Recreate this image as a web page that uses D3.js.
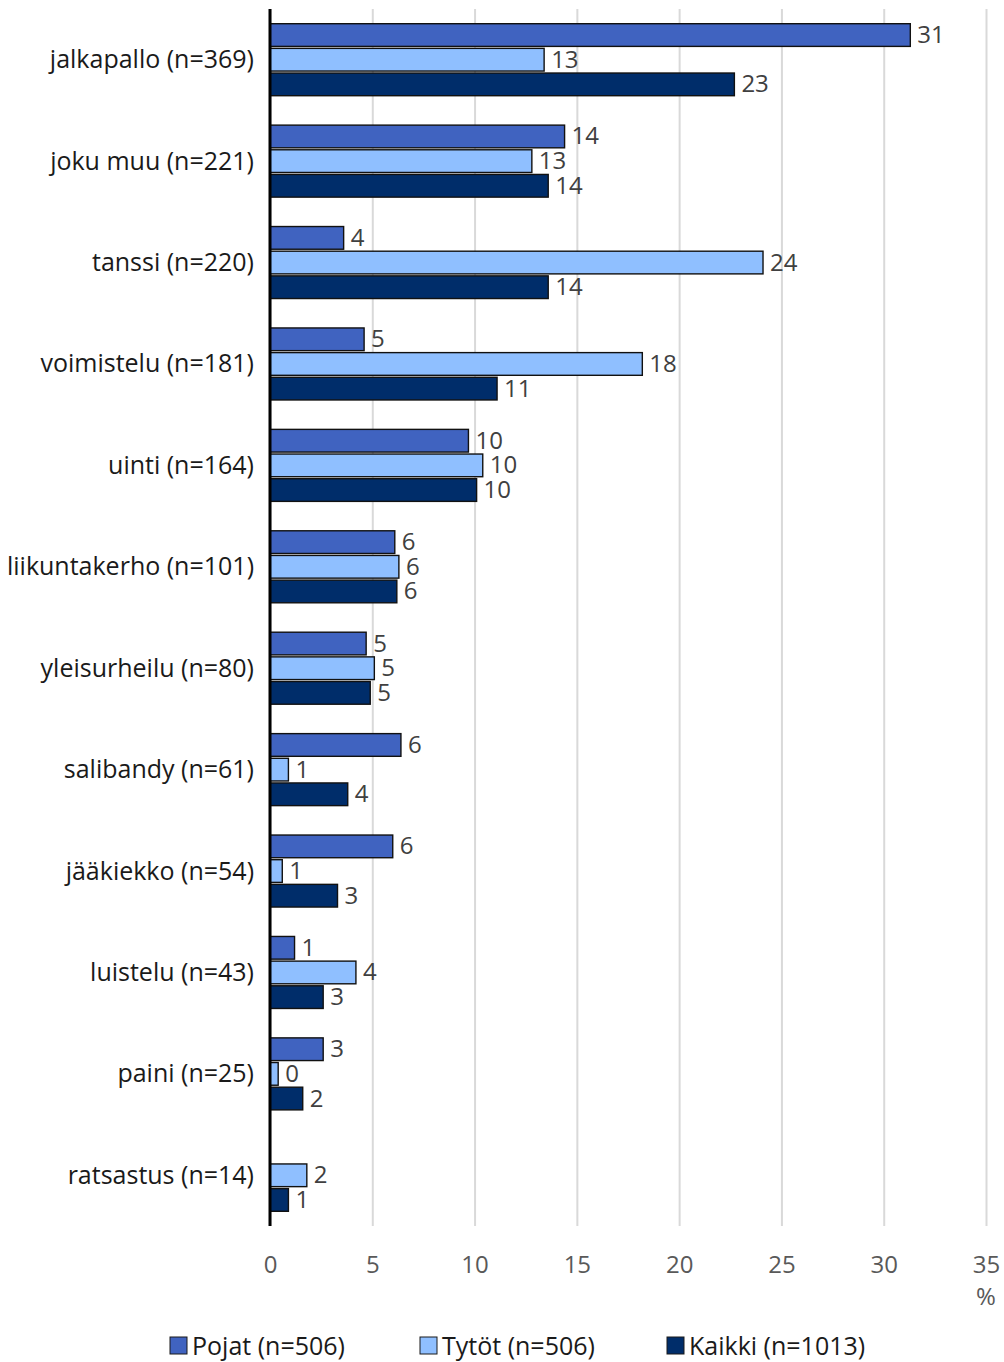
<!DOCTYPE html>
<html>
<head>
<meta charset="utf-8">
<script src="https://cdn.jsdelivr.net/npm/d3@7"></script>
<style>
  body { margin: 0; background: #fff; }
  svg { display: block; font-family: "Open Sans", sans-serif; }
</style>
</head>
<body>
<svg id="chart"></svg>
<script>
const categories = [
  'jalkapallo (n=369)', 'joku muu (n=221)', 'tanssi (n=220)', 'voimistelu (n=181)',
  'uinti (n=164)', 'liikuntakerho (n=101)', 'yleisurheilu (n=80)', 'salibandy (n=61)',
  'jääkiekko (n=54)', 'luistelu (n=43)', 'paini (n=25)', 'ratsastus (n=14)'
];
const seriesNames = ['Pojat (n=506)', 'Tytöt (n=506)', 'Kaikki (n=1013)'];
const pojat  = [31.3, 14.4, 3.6, 4.6, 9.7, 6.1, 4.7, 6.4, 6.0, 1.2, 2.6, null];
const tytot  = [13.4, 12.8, 24.1, 18.2, 10.4, 6.3, 5.1, 0.9, 0.6, 4.2, 0.4, 1.8];
const kaikki = [22.7, 13.6, 13.6, 11.1, 10.1, 6.2, 4.9, 3.8, 3.3, 2.6, 1.6, 0.9];
const xTicks = [0, 5, 10, 15, 20, 25, 30, 35];
const colors = ['#4063c0', '#8fbfff', '#002d6a'];

const width = 1004, height = 1362;
const plotTop = 9, plotBottom = 1226;

const svg = d3.select('#chart').attr('width', width).attr('height', height);

const x = d3.scaleLinear().domain([0, 35]).range([270, 986]);
const y0 = d3.scaleBand().domain(categories).range([plotTop, plotBottom])
  .paddingInner(0.29).paddingOuter(0.145);
const y1 = d3.scaleBand().domain(seriesNames).range([0, y0.bandwidth()]).paddingInner(0.08);
const color = d3.scaleOrdinal().domain(seriesNames).range(colors);

const rows = categories.map((c, i) => ({
  cat: c,
  vals: [pojat[i], tytot[i], kaikki[i]].map((v, j) => ({key: seriesNames[j], v}))
}));

// grid
svg.append('g')
  .attr('transform', 'translate(0,' + plotBottom + ')')
  .call(d3.axisBottom(x).tickValues(xTicks).tickSize(-(plotBottom - plotTop)).tickFormat(() => ''))
  .call(g => g.select('.domain').remove())
  .call(g => g.selectAll('line').attr('stroke', '#d9d9d9').attr('stroke-width', 2));

// tick labels
svg.append('g')
  .attr('transform', 'translate(0,' + plotBottom + ')')
  .call(d3.axisBottom(x).tickValues(xTicks).tickSize(0).tickPadding(30))
  .call(g => g.select('.domain').remove())
  .call(g => g.selectAll('text')
    .attr('font-family', '"Open Sans", sans-serif')
    .attr('font-size', 24).attr('fill', '#595959'));

svg.append('text')
  .attr('x', x(35)).attr('y', 1295)
  .attr('text-anchor', 'middle').attr('dominant-baseline', 'central')
  .attr('font-size', 24).attr('fill', '#595959')
  .text('%');

// bars
const groups = svg.append('g').selectAll('g')
  .data(rows).join('g')
  .attr('transform', d => 'translate(0,' + y0(d.cat) + ')');

groups.selectAll('rect')
  .data(d => d.vals.filter(e => e.v != null))
  .join('rect')
  .attr('x', x(0))
  .attr('y', d => y1(d.key))
  .attr('width', d => x(d.v) - x(0))
  .attr('height', y1.bandwidth())
  .attr('fill', d => color(d.key))
  .attr('stroke', '#111')
  .attr('stroke-width', 1.4);

groups.selectAll('text')
  .data(d => d.vals.filter(e => e.v != null))
  .join('text')
  .attr('x', d => x(d.v) + 7)
  .attr('y', d => y1(d.key) + y1.bandwidth() / 2 - 1.5)
  .attr('dominant-baseline', 'central')
  .attr('font-size', 24)
  .attr('fill', '#404040')
  .text(d => d3.format('.0f')(d.v));

// category labels
svg.append('g').selectAll('text')
  .data(categories).join('text')
  .attr('x', 254)
  .attr('y', d => y0(d) + y0.bandwidth() / 2 - 1.5)
  .attr('text-anchor', 'end')
  .attr('dominant-baseline', 'central')
  .attr('font-size', 25)
  .attr('fill', '#1a1a1a')
  .text(d => d);

// axis line
svg.append('line')
  .attr('x1', x(0)).attr('x2', x(0))
  .attr('y1', plotTop).attr('y2', plotBottom)
  .attr('stroke', '#000').attr('stroke-width', 3);

// legend
const legendX = [170, 420, 667];
const legend = svg.append('g').selectAll('g')
  .data(seriesNames).join('g')
  .attr('transform', (d, i) => 'translate(' + legendX[i] + ',1346)');
legend.append('rect')
  .attr('x', 0).attr('y', -9).attr('width', 17).attr('height', 17)
  .attr('fill', d => color(d)).attr('stroke', '#1a1a1a').attr('stroke-width', 1);
legend.append('text')
  .attr('x', 22).attr('y', -1)
  .attr('dominant-baseline', 'central')
  .attr('font-size', 25).attr('fill', '#1a1a1a')
  .text(d => d);
</script>
</body>
</html>
